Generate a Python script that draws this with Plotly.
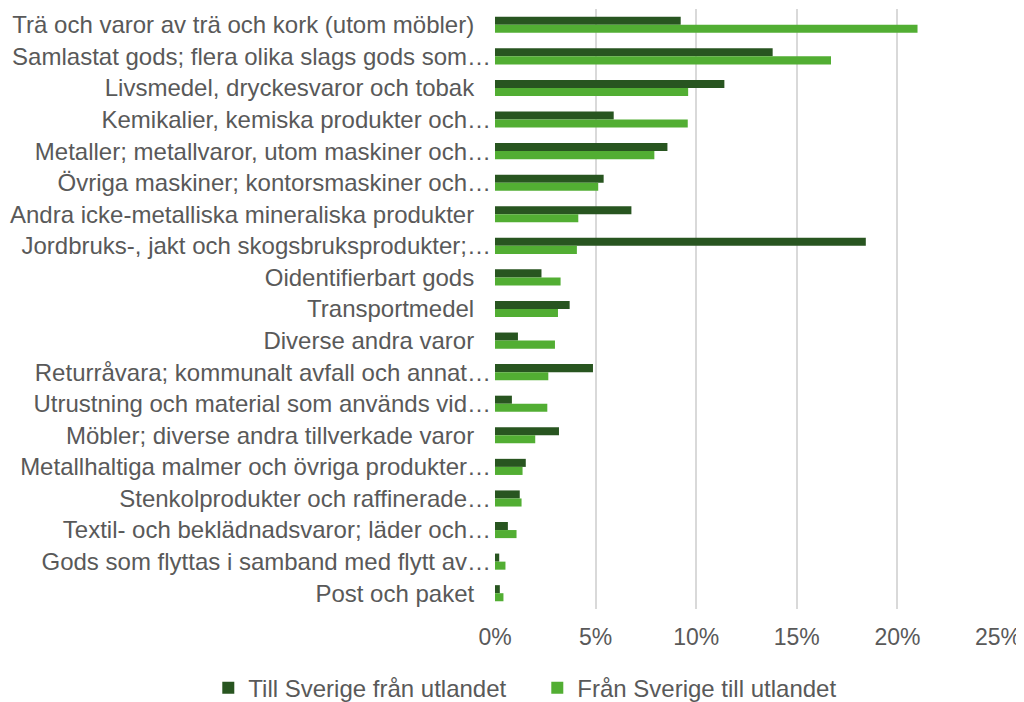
import plotly.graph_objects as go

categories = [
    "Trä och varor av trä och kork (utom möbler)",
    "Samlastat gods; flera olika slags gods som…",
    "Livsmedel, dryckesvaror och tobak",
    "Kemikalier, kemiska produkter och…",
    "Metaller; metallvaror, utom maskiner och…",
    "Övriga maskiner; kontorsmaskiner och…",
    "Andra icke-metalliska mineraliska produkter",
    "Jordbruks-, jakt och skogsbruksprodukter;…",
    "Oidentifierbart gods",
    "Transportmedel",
    "Diverse andra varor",
    "Returråvara; kommunalt avfall och annat…",
    "Utrustning och material som används vid…",
    "Möbler; diverse andra tillverkade varor",
    "Metallhaltiga malmer och övriga produkter…",
    "Stenkolprodukter och raffinerade…",
    "Textil- och beklädnadsvaror; läder och…",
    "Gods som flyttas i samband med flytt av…",
    "Post och paket",
]

till_sverige = [0.0923, 0.138, 0.114, 0.059, 0.0857, 0.054, 0.0678, 0.1843, 0.0231, 0.0371,
                0.0114, 0.0487, 0.0084, 0.0318, 0.0153, 0.0123, 0.0064, 0.0021, 0.0024]
fran_sverige = [0.210, 0.167, 0.096, 0.0958, 0.0792, 0.0513, 0.0414, 0.0407, 0.0326, 0.0313,
                0.0298, 0.0265, 0.026, 0.020, 0.0137, 0.0132, 0.0107, 0.0052, 0.0042]

series_names = ["Till Sverige från utlandet", "Från Sverige till utlandet"]
colors = ["#285520", "#52ae33"]

# Labels are right-aligned on the text body; a truncation ellipsis hangs past it.
PAD = "\u2002\u2009"
tick_text = [c if c.endswith("…") else c + PAD for c in categories]

fig = go.Figure()
for name, vals, col in zip(series_names, [till_sverige, fran_sverige], colors):
    fig.add_trace(go.Bar(
        y=categories, x=vals, name=name, orientation="h",
        marker=dict(color=col, line=dict(width=0)),
    ))

# the page body has an 8px margin; the figure is sized/placed to compensate
font_family = "Liberation Sans, Arial, sans-serif"
fig.update_layout(
    barmode="group",
    bargap=0.49,
    bargroupgap=0,
    width=1016, height=694,
    margin=dict(l=487, r=26, t=1, b=93, autoexpand=False),
    plot_bgcolor="white", paper_bgcolor="white",
    font=dict(family=font_family, size=24, color="#595959"),
    showlegend=True,
    legend=dict(
        orientation="h", xref="paper", yref="paper",
        x=-0.570, xanchor="left", y=-0.132, yanchor="middle",
        font=dict(size=24, color="#595959"),
        traceorder="normal", entrywidth=284, entrywidthmode="pixels",
        itemwidth=30,
    ),
    xaxis=dict(
        range=[0, 0.25], tickvals=[0, 0.05, 0.10, 0.15, 0.20, 0.25],
        tickformat=".0%", showgrid=True, gridcolor="#d9d9d9", gridwidth=2,
        zeroline=False, showline=False, ticks="", ticklabelstandoff=12,
        automargin=False, tickfont=dict(size=23),
    ),
    yaxis=dict(
        autorange="reversed", showgrid=False, zeroline=False, showline=False,
        ticks="", ticklabelstandoff=3, automargin=False,
        tickmode="array", tickvals=categories, ticktext=tick_text,
    ),
)

fig.write_html("out.html")
